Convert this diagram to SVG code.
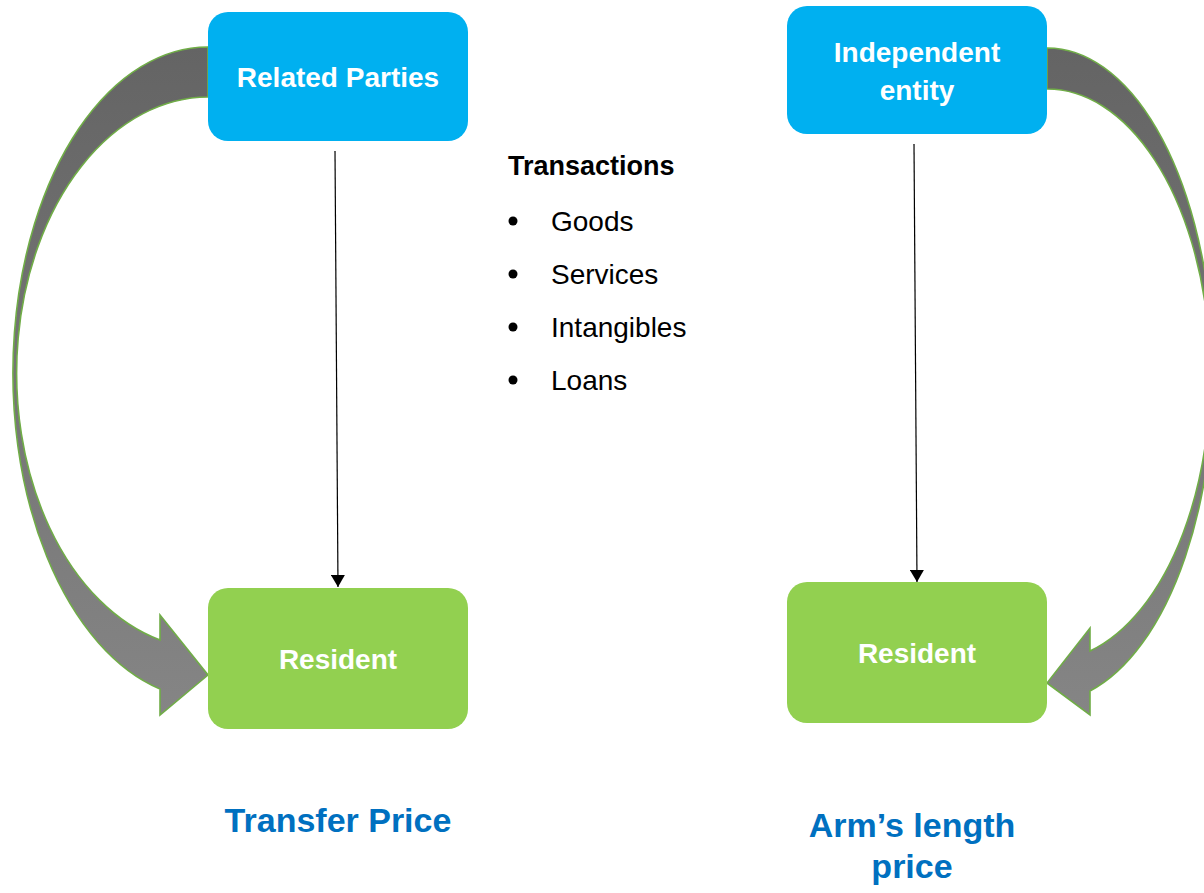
<svg xmlns="http://www.w3.org/2000/svg" width="1204" height="893" viewBox="0 0 1204 893">
  <defs>
    <linearGradient id="bandGrad" x1="0" y1="0" x2="0" y2="1">
      <stop offset="0" stop-color="#646464"/>
      <stop offset="1" stop-color="#858585"/>
    </linearGradient>
    <marker id="arrowHead" viewBox="0 0 12 14" refX="12" refY="7" markerWidth="12" markerHeight="14" markerUnits="userSpaceOnUse" orient="auto">
      <path d="M0,0 L12,7 L0,14 Z" fill="#000"/>
    </marker>
    <style>
      .blue { fill: #00B0F0; }
      .green { fill: #92D050; }
      .boxText { font-family: "Liberation Sans", Arial, sans-serif; font-weight: bold; font-size: 28px; fill: #FFFFFF; text-anchor: middle; }
      .band { fill: url(#bandGrad); stroke: #70AD47; stroke-width: 1.6; stroke-linejoin: miter; }
      .line { stroke: #000; stroke-width: 1.2; fill: none; marker-end: url(#arrowHead); }
      .title { font-family: "Liberation Sans", Arial, sans-serif; font-weight: bold; font-size: 27px; fill: #000; }
      .item { font-family: "Liberation Sans", Arial, sans-serif; font-size: 28px; fill: #000; }
      .caption { font-family: "Liberation Sans", Arial, sans-serif; font-weight: bold; font-size: 34px; fill: #0070C0; text-anchor: middle; }
    </style>
  </defs>

  <g id="connectors">
    <path id="curve-left" class="band" d="M208,47 A195,326 0 0 0 160,689 L160,715 L208,675 L160,615 L160,640 A192,276 0 0 1 208,97 Z"/>
    <path id="curve-right" class="band" d="M1047,48 A166,327 0 0 1 1090,691 L1090,715 L1047,683 L1090,628 L1090,651 A163,286 0 0 0 1047,89 Z"/>
    <line id="line-left" class="line" x1="335" y1="151" x2="338" y2="587"/>
    <line id="line-right" class="line" x1="914" y1="144" x2="917" y2="582"/>
  </g>

  <g id="node-related-parties">
    <rect class="blue" x="208" y="12" width="260" height="129" rx="20" ry="20"/>
    <text class="boxText" x="338" y="87">Related Parties</text>
  </g>

  <g id="node-resident-left">
    <rect class="green" x="208" y="588" width="260" height="141" rx="20" ry="20"/>
    <text class="boxText" x="338" y="669">Resident</text>
  </g>

  <g id="node-independent-entity">
    <rect class="blue" x="787" y="6" width="260" height="128" rx="20" ry="20"/>
    <text class="boxText" x="917" y="62">Independent</text>
    <text class="boxText" x="917" y="100">entity</text>
  </g>

  <g id="node-resident-right">
    <rect class="green" x="787" y="582" width="260" height="141" rx="20" ry="20"/>
    <text class="boxText" x="917" y="663">Resident</text>
  </g>

  <g id="transactions">
    <text class="title" x="508" y="175">Transactions</text>
    <circle cx="513" cy="221" r="4.5" fill="#000"/>
    <text class="item" x="551" y="231">Goods</text>
    <circle cx="513" cy="274" r="4.5" fill="#000"/>
    <text class="item" x="551" y="284">Services</text>
    <circle cx="513" cy="327" r="4.5" fill="#000"/>
    <text class="item" x="551" y="337">Intangibles</text>
    <circle cx="513" cy="380" r="4.5" fill="#000"/>
    <text class="item" x="551" y="390">Loans</text>
  </g>

  <g id="caption-transfer-price">
    <text class="caption" x="338" y="832">Transfer Price</text>
  </g>

  <g id="caption-arms-length">
    <text class="caption" x="912" y="837">Arm’s length</text>
    <text class="caption" x="912" y="878">price</text>
  </g>
</svg>
